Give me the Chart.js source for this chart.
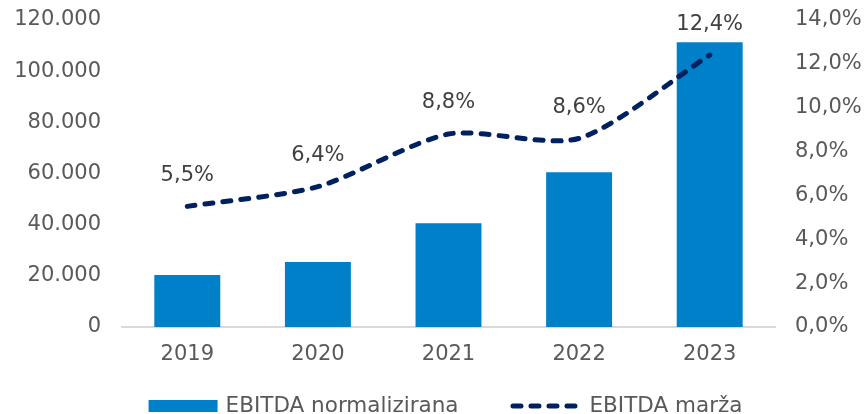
<!DOCTYPE html>
<html>
<head>
<meta charset="utf-8"/>
<script src="https://cdn.jsdelivr.net/npm/chart.js@4.4.1/dist/chart.umd.min.js"></script>
<style>
  html, body { margin: 0; padding: 0; background: #fff; }
  #wrap { width: 867px; height: 414px; }
</style>
</head>
<body>
<div id="wrap"><canvas id="chart"></canvas></div>
<script>
// values
var godine = ['2019', '2020', '2021', '2022', '2023'];
var ebitda = [20300, 25400, 40600, 60500, 111300];
var marza = [5.5, 6.4, 8.8, 8.6, 12.4];
var nazivi = ['EBITDA normalizirana', 'EBITDA marža'];

var sivo = '#595959';
var plava = '#0080c8';
var tamna = '#002060';
var pismo = 'DejaVu Sans';
var crtica = [8, 10];

Chart.defaults.font.family = pismo;
Chart.defaults.font.size = 21;
Chart.defaults.color = sivo;

function fmtBroj(v) {
  return String(v).replace(/\B(?=(\d{3})+(?!\d))/g, '.');
}
function fmtPost(v) {
  return v.toFixed(1).replace('.', ',') + '%';
}

// labels above the line points
var oznake = {
  id: 'oznake',
  afterDatasetsDraw: function(chart) {
    var ctx = chart.ctx;
    var meta = chart.getDatasetMeta(1);
    ctx.save();
    ctx.font = '21px "' + pismo + '"';
    ctx.fillStyle = '#404040';
    ctx.textAlign = 'center';
    ctx.textBaseline = 'middle';
    meta.data.forEach(function(p, i) {
      ctx.fillText(fmtPost(marza[i]), p.x, p.y - 31);
    });
    ctx.restore();
  }
};

// legend drawn by hand: box + text, dashed line + text
var legenda = {
  id: 'legenda',
  afterDraw: function(chart) {
    var ctx = chart.ctx;
    var ca = chart.chartArea;
    ctx.save();
    ctx.font = '21.5px "' + pismo + '"';
    ctx.textBaseline = 'middle';
    ctx.textAlign = 'left';
    var w1 = ctx.measureText(nazivi[0]).width;
    var w2 = ctx.measureText(nazivi[1]).width;
    var kutija = 69, linija = 71, razmak = 8, izmedju = 52;
    var ukupno = kutija + razmak + w1 + izmedju + linija + razmak + w2;
    var x = (ca.left + ca.right) / 2 - 3 - ukupno / 2;
    var y = chart.height - 8;
    ctx.fillStyle = plava;
    ctx.fillRect(x, y - 6, kutija, 12);
    x += kutija + razmak;
    ctx.fillStyle = sivo;
    ctx.fillText(nazivi[0], x, y);
    x += w1 + izmedju;
    ctx.strokeStyle = tamna;
    ctx.lineWidth = 5;
    ctx.lineCap = 'round';
    ctx.setLineDash(crtica);
    ctx.beginPath();
    ctx.moveTo(x + 2.5, y);
    ctx.lineTo(x + linija - 2.5, y);
    ctx.stroke();
    ctx.setLineDash([]);
    x += linija + razmak;
    ctx.fillText(nazivi[1], x, y);
    ctx.restore();
  }
};

var ctx = document.getElementById('chart').getContext('2d');
new Chart(ctx, {
  type: 'bar',
  data: {
    labels: godine,
    datasets: [{
      label: nazivi[0],
      data: ebitda,
      backgroundColor: plava,
      yAxisID: 'y',
      order: 1,
      categoryPercentage: 1,
      barPercentage: 0.505
    }, {
      type: 'line',
      label: nazivi[1],
      data: marza,
      borderColor: tamna,
      backgroundColor: tamna,
      borderWidth: 5,
      borderDash: crtica,
      borderCapStyle: 'round',
      tension: 0.25,
      pointRadius: 0,
      yAxisID: 'y1',
      order: 0
    }]
  },
  options: {
    responsive: true,
    maintainAspectRatio: false,
    animation: false,
    layout: { padding: { left: 0, right: 0, top: 20, bottom: 47 } },
    plugins: {
      tooltip: { enabled: false },
      legend: { display: false }
    },
    scales: {
      x: {
        grid: { display: false, drawTicks: false },
        border: { display: true, color: '#d9d9d9', width: 2 },
        ticks: { padding: 15, color: sivo },
        afterFit: function(s) { s.height = 40; }
      },
      y: {
        position: 'left',
        min: 0, max: 120000,
        grid: { display: false, drawTicks: false },
        border: { display: false },
        ticks: { stepSize: 20000, padding: 21, callback: fmtBroj },
        afterFit: function(s) { s.width = 122; s.paddingTop = 0; }
      },
      y1: {
        position: 'right',
        min: 0, max: 14,
        grid: { display: false, drawTicks: false },
        border: { display: false },
        ticks: { stepSize: 2, padding: 20, callback: fmtPost },
        afterFit: function(s) { s.width = 92; s.paddingTop = 0; }
      }
    }
  },
  plugins: [oznake, legenda]
});
</script>
</body>
</html>
